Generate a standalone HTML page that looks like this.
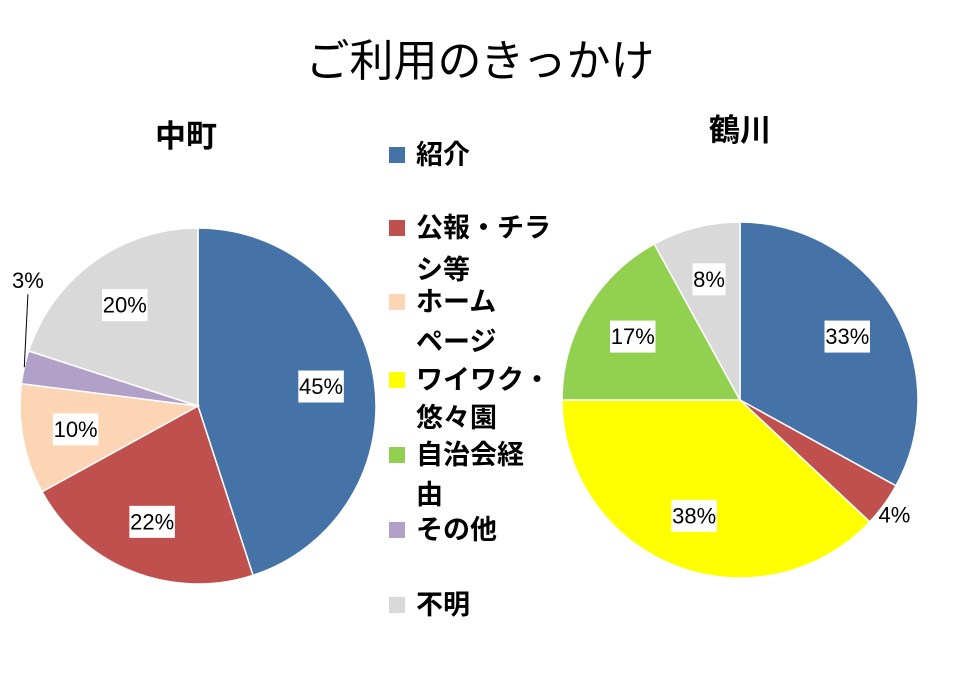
<!DOCTYPE html>
<html><head><meta charset="utf-8"><style>
body{margin:0;background:#fff;}
svg text{font-family:"Liberation Sans","Noto Sans CJK JP",sans-serif;}
</style></head><body>
<svg id="chart" width="960" height="673" viewBox="0 0 960 673" xmlns="http://www.w3.org/2000/svg">
<text x="480" y="76" font-size="44" text-anchor="middle">ご利用のきっかけ</text>
<text x="186" y="147" font-size="31" font-weight="bold" text-anchor="middle">中町</text>
<text x="740" y="141" font-size="31" font-weight="bold" text-anchor="middle">鶴川</text>
<g id="pies"></g>
<g id="legend"></g>
</svg>
<script>
const categories = ["紹介","公報・チラシ等","ホームページ","ワイワク・悠々園","自治会経由","その他","不明"];
const nakamachiValues = [45,22,10,0,0,3,20];
const tsurukawaValues = [33,4,0,38,17,0,8];
const colors = ["#4572A7","#C0504D","#FCD5B5","#FFFF00","#92D050","#B1A0C7","#D9D9D9"];
const legendLines = [["紹介"],["公報・チラ","シ等"],["ホーム","ページ"],["ワイワク・","悠々園"],["自治会経","由"],["その他"],["不明"]];
const legendY = [155,228,302,380,455,530,605];
const NS="http://www.w3.org/2000/svg";
function mk(tag,attrs,parent){const e=document.createElementNS(NS,tag);for(const k in attrs)e.setAttribute(k,attrs[k]);parent.appendChild(e);return e;}
const pies=document.getElementById('pies');
function pt(cx,cy,r,frac){const a=frac*2*Math.PI;return [cx+r*Math.sin(a),cy-r*Math.cos(a)];}
function drawPie(values,cx,cy,r,name,outside){
  const g=mk('g',{},pies);
  
  
  const total=values.reduce((a,b)=>a+b,0);
  let cum=0;
  values.forEach((v,i)=>{
    if(v<=0)return;
    const f0=cum/total,f1=(cum+v)/total;cum+=v;
    const [x0,y0]=pt(cx,cy,r,f0),[x1,y1]=pt(cx,cy,r,f1);
    const large=(f1-f0)>0.5?1:0;
    const p=mk('path',{d:`M${cx},${cy} L${x0},${y0} A${r},${r} 0 ${large} 1 ${x1},${y1} Z`,fill:colors[i],stroke:'#fff','stroke-width':1.5},g);
    
    
    const pct=Math.round(v/total*100)+'%';
    const mid=(f0+f1)/2;
    if(v/total<0.06){
      const o=outside[i]||[0,0];
      const [lx,ly]=pt(cx,cy,r*1.1,mid);
      const [ex,ey]=pt(cx,cy,r,mid);
      const tx=lx+o[0],ty=ly+o[1];
      if(o[2]){const ln=mk('line',{x1:ex,y1:ey,x2:tx,y2:ty+14,stroke:'#000','stroke-width':1},g);
        }
      const t=mk('text',{x:tx,y:ty,'font-size':22,'text-anchor':'middle','dominant-baseline':'central'},g);
      t.textContent=pct;
      
      
    } else {
      const [lx,ly]=pt(cx,cy,r*0.7,mid);
      const w=pct.length*12.5+8;
      const b=mk('rect',{x:lx-w/2,y:ly-16,width:w,height:32,fill:'#fff'},g);
      
      
      const t=mk('text',{x:lx,y:ly,'font-size':22,'text-anchor':'middle','dominant-baseline':'central'},g);
      t.textContent=pct;
      
      
    }
  });
}
drawPie(nakamachiValues,198,406,178,'nakamachi-pie',{5:[21,-83,1]});
drawPie(tsurukawaValues,740,400,178,'tsurukawa-pie',{1:[-4,0,0]});
const lg=document.getElementById('legend');
categories.forEach((c,i)=>{
  const y=legendY[i];
  const r=mk('rect',{x:389,y:y-8,width:16,height:16,fill:colors[i]},lg);
  
  
  legendLines[i].forEach((line,j)=>{
    const t=mk('text',{x:416,y:y+(j===0?0:[0,42,40,38,40][i]),'font-size':27,'font-weight':'bold','dominant-baseline':'central'},lg);
    t.textContent=line;
    
    
  });
});
</script>
</body></html>
